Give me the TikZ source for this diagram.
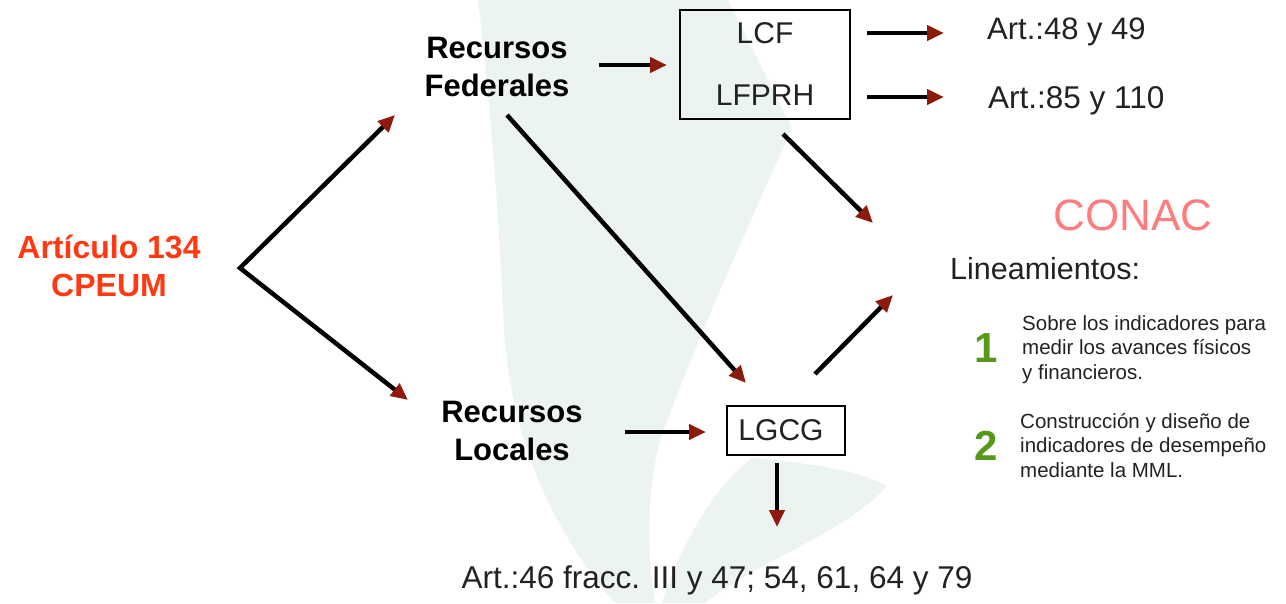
\documentclass[tikz,border=0pt]{standalone}
\usepackage{fontspec}
\setmainfont{Liberation Sans}
\usetikzlibrary{arrows.meta}
\definecolor{arrred}{HTML}{8E1A0E}
\definecolor{artred}{HTML}{FF3A12}
\definecolor{conacpink}{HTML}{FF7C7C}
\definecolor{numgreen}{HTML}{56991A}
\definecolor{wmgreen}{HTML}{EBF4EF}
\definecolor{txt}{HTML}{222222}
\begin{document}
\begin{tikzpicture}[x=1pt,y=-1pt,
  arr/.style={line width=4.5pt, -{Triangle[length=17pt,width=15pt,color=arrred]}},
  dblarr/.style={line width=4.5pt, {Triangle[length=17pt,width=15pt,color=arrred]}-{Triangle[length=17pt,width=15pt,color=arrred]}},
  boldlbl/.style={font=\bfseries\fontsize{31}{38}\selectfont, align=center, inner sep=0pt},
  lbl/.style={font=\fontsize{30}{36}\selectfont, text=txt, inner sep=0pt},
  small/.style={font=\fontsize{20.5}{24.5}\selectfont, text=txt, align=left, inner sep=0pt},
  num/.style={font=\bfseries\fontsize{42}{42}\selectfont, text=numgreen, inner sep=0pt},
  lawbox/.style={draw, line width=2pt, inner sep=0pt, text=txt, align=center},
  wm/.style={fill=wmgreen, draw=none}]
\useasboundingbox (0,0) rectangle (1286,603);
\fill[white] (0,0) rectangle (1286,603);
% watermark
\path[wm] (478,0) -- (728,0) -- (792,128)
  .. controls (760,200) and (700,330) .. (660,440)
  .. controls (645,500) and (648,560) .. (655,603) -- (615,603)
  .. controls (560,540) and (512,450) .. (504,330)
  .. controls (498,200) and (490,100) .. (478,0) -- cycle;
\path[wm] (752,458) .. controls (800,462) and (860,470) .. (887,486)
  .. controls (850,530) and (760,560) .. (705,603) -- (662,603)
  .. controls (682,540) and (720,480) .. (752,458) -- cycle;
% nodes
\node[boldlbl, text=artred, font=\bfseries\fontsize{32}{38.5}\selectfont] (art) at (109,266) {Artículo 134\\CPEUM};
\node[boldlbl] (rf) at (497,67) {Recursos\\Federales};
\node[boldlbl] (rl) at (512,431) {Recursos\\Locales};
\node[lawbox, font=\fontsize{30}{62}\selectfont, minimum width=170pt, minimum height=109pt] (fed) at (765,64.5) {LCF\\LFPRH};
\node[lawbox, font=\fontsize{30}{36}\selectfont, minimum width=118pt, minimum height=49pt] (lgcg) at (786,430.5) {LGCG\hspace{10pt}};
\node[lbl, font=\fontsize{31}{36}\selectfont, anchor=base west] (a4849) at (987,39) {Art.:48 y 49};
\node[lbl, font=\fontsize{31.5}{36}\selectfont, anchor=base west] (a85110) at (988,108) {Art.:85 y 110};
\node[font=\fontsize{44}{44}\selectfont, text=conacpink, inner sep=0pt, anchor=base] (conac) at (1133,230) {CONAC};
\node[lbl, font=\fontsize{30.5}{36}\selectfont, anchor=base west] (linea) at (950,279) {Lineamientos:};
\node[num, anchor=base west] (n1) at (974,362) {1};
\node[small, anchor=base west] (t1) at (1022,379) {Sobre los indicadores para\\medir los avances físicos\\y financieros.};
\node[num, anchor=base west] (n2) at (974,460) {2};
\node[small, anchor=base west] (t2) at (1020,477) {Construcción y diseño de\\indicadores de desempeño\\mediante la MML.};
\node[lbl, font=\fontsize{31.5}{36}\selectfont, anchor=base] (a46) at (717,588) {Art.:46 fracc. III y 47; 54, 61, 64 y 79};
% connector ends
\coordinate (apex) at (240,268);
\coordinate (rfin) at (395,115);
\coordinate (rlin) at (408,400);
\coordinate (rfout) at (599,65);
\coordinate (fedin) at (667,65);
\coordinate (fedout1) at (867,33);
\coordinate (a4849in) at (944,33);
\coordinate (fedout2) at (867,97);
\coordinate (a85110in) at (944,97);
\coordinate (fedout3) at (783,134);
\coordinate (conacin1) at (873,223);
\coordinate (rfout2) at (507,115);
\coordinate (lgcgin1) at (746,383);
\coordinate (rlout) at (625,432);
\coordinate (lgcgin2) at (706,432);
\coordinate (lgcgout) at (777,463);
\coordinate (a46in) at (777,527);
\coordinate (lgcgout2) at (815,374);
\coordinate (conacin2) at (893,295);
% connectors
\draw[dblarr] (rfin) -- (apex) -- (rlin);
\draw[arr] (rfout) -- (fedin);
\draw[arr] (fedout1) -- (a4849in);
\draw[arr] (fedout2) -- (a85110in);
\draw[arr] (fedout3) -- (conacin1);
\draw[arr] (rfout2) -- (lgcgin1);
\draw[arr] (rlout) -- (lgcgin2);
\draw[arr] (lgcgout) -- (a46in);
\draw[arr] (lgcgout2) -- (conacin2);
\end{tikzpicture}
\end{document}
